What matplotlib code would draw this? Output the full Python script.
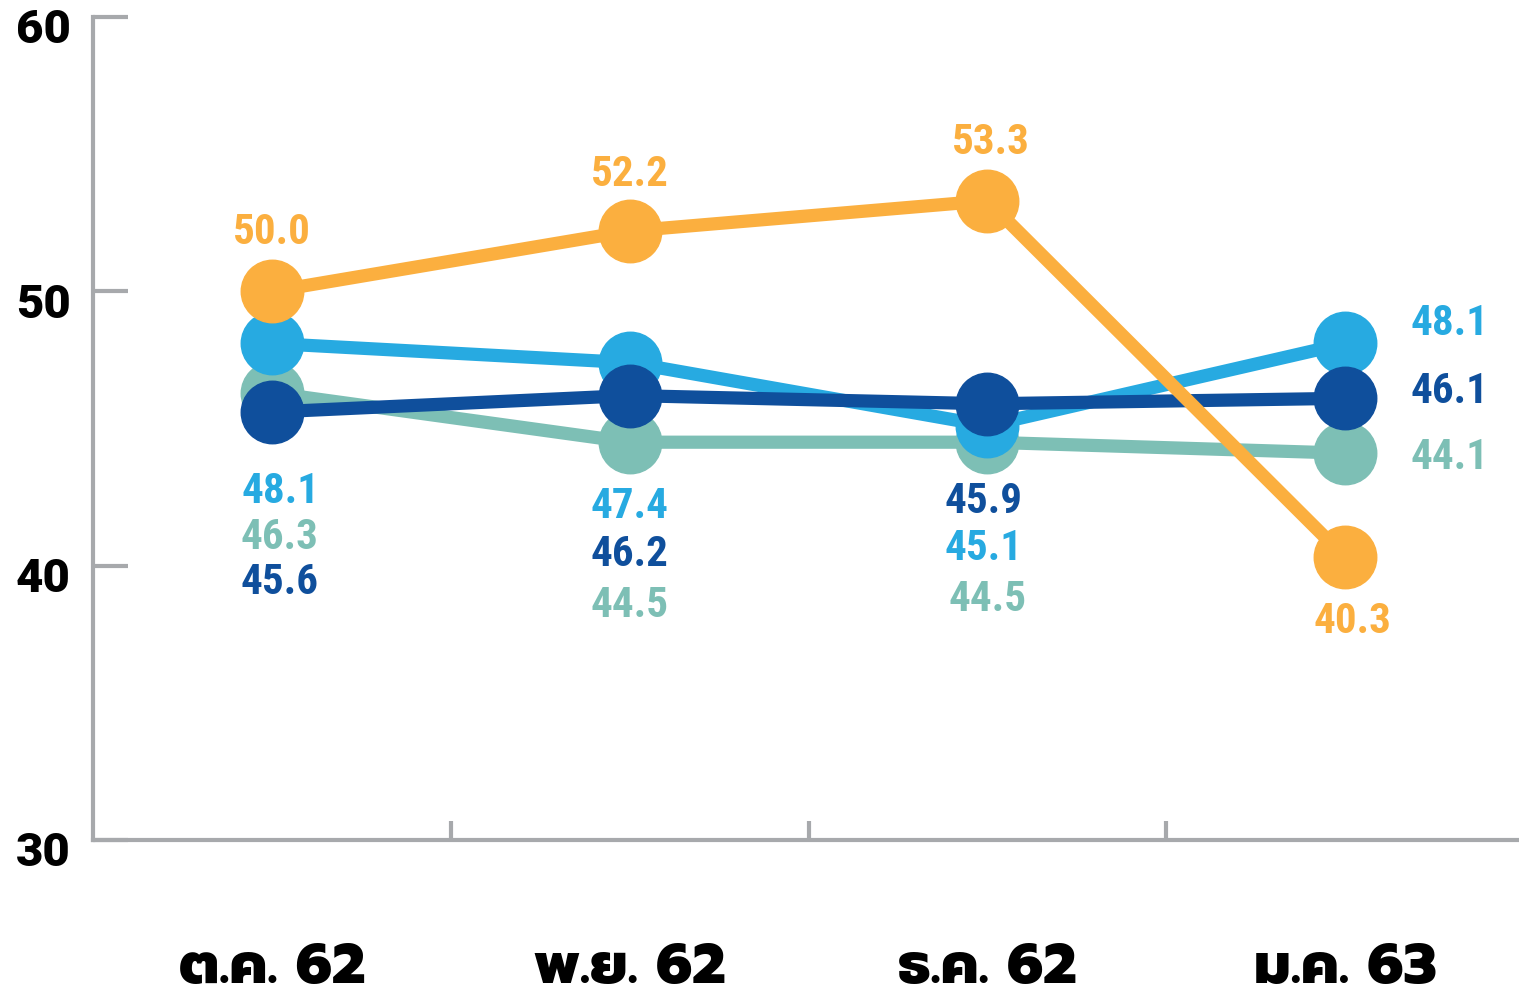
import matplotlib
matplotlib.use("Agg")
import matplotlib.pyplot as plt
import matplotlib.transforms as mtransforms

# ข้อมูลรายเดือน
months = ["ต.ค. 62", "พ.ย. 62", "ธ.ค. 62", "ม.ค. 63"]
orange_vals = [50.0, 52.2, 53.3, 40.3]
lightblue_vals = [48.1, 47.4, 45.1, 48.1]
darkblue_vals = [45.6, 46.2, 45.9, 46.1]
teal_vals = [46.3, 44.5, 44.5, 44.1]
yticks = [30, 40, 50, 60]

ORANGE = "#FBAF3F"
LIGHTBLUE = "#27AAE1"
DARKBLUE = "#0F4F9C"
TEAL = "#7DBFB5"
AXIS_GRAY = "#A7A9AC"

label_font = ["Roboto Condensed", "Liberation Sans Narrow", "DejaVu Sans"]

fig = plt.figure(figsize=(15.19, 9.93), dpi=100)
ax = fig.add_axes([0.0612, 0.1541, 0.9375, 0.8288])

x = range(len(months))
series = [
    (teal_vals, TEAL, 2),
    (lightblue_vals, LIGHTBLUE, 3),
    (darkblue_vals, DARKBLUE, 4),
    (orange_vals, ORANGE, 5),
]
for vals, color, z in series:
    ax.plot(x, vals, color=color, lw=9.5, marker="o", ms=45,
            solid_capstyle="round", zorder=z)

# ตำแหน่งป้ายค่า (x, y) ในพิกัดข้อมูล
label_pos = {
    "orange": [(0.0, 52.16), (1.0, 54.24), (2.01, 55.41), (3.02, 37.98)],
    "lightblue": [(0.025, 42.72), (1.0, 42.14), (1.99, 40.61), (3.29, 48.84)],
    "teal": [(0.02, 41.04), (1.0, 38.56), (2.0, 38.78), (3.29, 43.96)],
    "darkblue": [(0.02, 39.37), (1.0, 40.39), (1.99, 42.35), (3.29, 46.33)],
}
label_series = {
    "orange": (orange_vals, ORANGE),
    "lightblue": (lightblue_vals, LIGHTBLUE),
    "teal": (teal_vals, TEAL),
    "darkblue": (darkblue_vals, DARKBLUE),
}
for key, (vals, color) in label_series.items():
    for (lx, ly), v in zip(label_pos[key], vals):
        ax.text(lx, ly, f"{v:.1f}", color=color, fontsize=31,
                fontweight="bold", family=label_font,
                ha="center", va="center", zorder=10)

ax.set_xlim(-0.5, 3.48)
ax.set_ylim(30, 60)

for side in ["top", "right"]:
    ax.spines[side].set_visible(False)
for side in ["left", "bottom"]:
    ax.spines[side].set_color(AXIS_GRAY)
    ax.spines[side].set_linewidth(3)

ax.tick_params(axis="y", direction="in", length=25, width=3,
               color=AXIS_GRAY, pad=16)
ax.set_yticks(yticks)
ax.set_yticklabels([str(t) for t in yticks], fontsize=34, fontweight="black",
                   family=["Roboto", "Liberation Sans", "DejaVu Sans"])
for lbl in ax.get_yticklabels():
    lbl.set_transform(lbl.get_transform() +
                      mtransforms.ScaledTranslation(0, -9 / 100, fig.dpi_scale_trans))

ax.set_xticks(list(x))
ax.set_xticklabels(months, fontsize=41, fontweight="heavy",
                   family=["Prompt", "Kanit", "DejaVu Sans"])
ax.set_xticks([0.5, 1.5, 2.5], minor=True)
ax.tick_params(axis="x", which="major", length=0, pad=73)
ax.tick_params(axis="x", which="minor", direction="in", length=14, width=3,
               color=AXIS_GRAY)

fig.savefig("out.png", dpi=100)
